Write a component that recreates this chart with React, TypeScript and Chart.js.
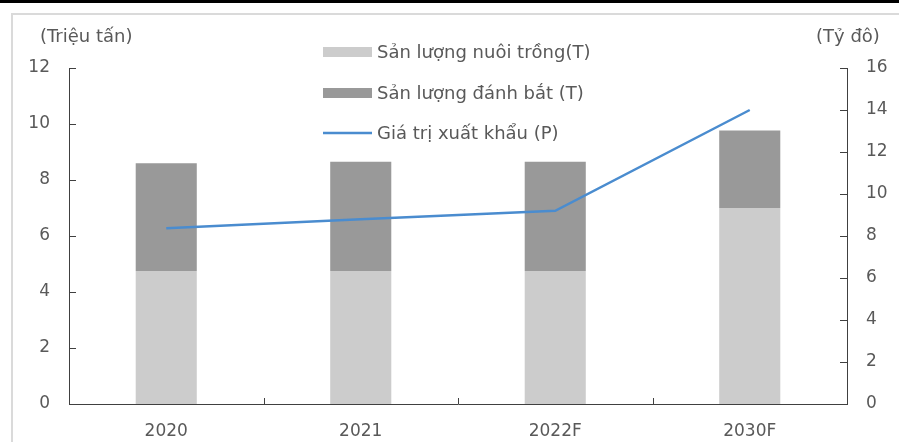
import React, { useEffect, useRef } from "react";
import { Chart, registerables } from "chart.js";

Chart.register(...registerables);

const categories = ["2020", "2021", "2022F", "2030F"];
const aquaculture = [4.75, 4.75, 4.75, 7.0];
const capture = [3.85, 3.9, 3.9, 2.77];
const exportValue = [8.37, 8.8, 9.2, 14.0];

const seriesLabels = [
  "Sản lượng nuôi trồng(T)",
  "Sản lượng đánh bắt (T)",
  "Giá trị xuất khẩu (P)",
];
const leftAxisTitle = "(Triệu tấn)";
const rightAxisTitle = "(Tỷ đô)";

const TEXT = "#595959";
const AXIS = "#404040";
const FONT = "'DejaVu Sans', sans-serif";

const decorPlugin = {
  id: "decor",
  afterDraw(chart: any) {
    const ctx = chart.ctx as CanvasRenderingContext2D;
    const yl = chart.scales.yL;
    const yr = chart.scales.yR;
    const x = chart.scales.x;
    ctx.save();
    // inside tick marks
    ctx.strokeStyle = AXIS;
    ctx.lineWidth = 1;
    ctx.beginPath();
    yl.ticks.forEach((t: any) => {
      const p = Math.round(yl.getPixelForValue(t.value)) + 0.5;
      ctx.moveTo(yl.right, p);
      ctx.lineTo(yl.right + 7, p);
    });
    yr.ticks.forEach((t: any) => {
      const p = Math.round(yr.getPixelForValue(t.value)) + 0.5;
      ctx.moveTo(yr.left - 7, p);
      ctx.lineTo(yr.left, p);
    });
    for (let i = 0; i <= categories.length; i++) {
      const p = Math.round(x.getPixelForValue(i - 0.5)) + 0.5;
      ctx.moveTo(p, x.top);
      ctx.lineTo(p, x.top - 6);
    }
    ctx.stroke();

    // axis titles
    ctx.fillStyle = TEXT;
    ctx.font = `18px ${FONT}`;
    ctx.textBaseline = "middle";
    ctx.textAlign = "left";
    ctx.fillText(leftAxisTitle, 40, 37);
    ctx.fillText(rightAxisTitle, 816, 37);

    // legend
    const rowsY = [52, 93, 133];
    chart.data.datasets.forEach((ds: any, i: number) => {
      const y = rowsY[i];
      if (ds.type === "line") {
        ctx.strokeStyle = ds.borderColor;
        ctx.lineWidth = 2.5;
        ctx.beginPath();
        ctx.moveTo(323, y);
        ctx.lineTo(372, y);
        ctx.stroke();
      } else {
        ctx.fillStyle = ds.backgroundColor;
        ctx.fillRect(323, y - 5, 49, 10);
      }
      ctx.fillStyle = TEXT;
      ctx.fillText(ds.label, 377, y + 1);
    });
    ctx.restore();
  },
};

export default function App() {
  const ref = useRef<HTMLCanvasElement | null>(null);

  useEffect(() => {
    if (!ref.current) return;
    const chart = new Chart(ref.current, {
      type: "bar",
      data: {
        labels: categories,
        datasets: [
          {
            type: "bar",
            label: seriesLabels[0],
            data: aquaculture,
            backgroundColor: "#cccccc",
            yAxisID: "yL",
            stack: "s",
            order: 1,
            categoryPercentage: 1,
            barPercentage: 0.314,
          },
          {
            type: "bar",
            label: seriesLabels[1],
            data: capture,
            backgroundColor: "#999999",
            yAxisID: "yL",
            stack: "s",
            order: 1,
            categoryPercentage: 1,
            barPercentage: 0.314,
          },
          {
            type: "line",
            label: seriesLabels[2],
            data: exportValue,
            borderColor: "#4a8ccf",
            backgroundColor: "#4a8ccf",
            borderWidth: 2.5,
            pointRadius: 0,
            tension: 0,
            yAxisID: "yR",
            order: 0,
          },
        ],
      } as any,
      options: {
        responsive: false,
        animation: false,
        layout: { padding: { top: 68, left: 0, right: 0, bottom: 0 } },
        plugins: {
          legend: { display: false },
          tooltip: { enabled: false },
        },
        scales: {
          x: {
            type: "category",
            stacked: true,
            offset: true,
            grid: { display: false, drawTicks: false },
            border: { display: true, color: AXIS, width: 1 },
            ticks: {
              color: TEXT,
              font: { family: FONT, size: 17 },
              padding: 17,
              maxRotation: 0,
            },
            afterFit: (s: any) => {
              s.height = 38;
            },
          },
          yL: {
            type: "linear",
            position: "left",
            stacked: true,
            min: 0,
            max: 12,
            grid: { display: false, drawTicks: false },
            border: { display: true, color: AXIS, width: 1 },
            ticks: {
              stepSize: 2,
              color: TEXT,
              font: { family: FONT, size: 17 },
              padding: 19,
            },
            afterFit: (s: any) => {
              s.width = 69;
            },
          },
          yR: {
            type: "linear",
            position: "right",
            min: 0,
            max: 16,
            grid: { display: false, drawTicks: false },
            border: { display: true, color: AXIS, width: 1 },
            ticks: {
              stepSize: 2,
              color: TEXT,
              font: { family: FONT, size: 17 },
              padding: 19,
            },
            afterFit: (s: any) => {
              s.width = 52;
            },
          },
        },
      } as any,
      plugins: [decorPlugin],
    });
    return () => chart.destroy();
  }, []);

  return (
    <div
      style={{
        position: "fixed",
        left: 0,
        top: 0,
        width: 899,
        height: 442,
        overflow: "hidden",
        background: "#ffffff",
      }}
    >
      <div
        style={{
          position: "absolute",
          left: 0,
          top: 0,
          width: 899,
          height: 3,
          background: "#000000",
        }}
      />
      <div
        style={{
          position: "absolute",
          left: 11,
          top: 13,
          width: 1000,
          height: 1000,
          borderLeft: "2px solid #dadada",
          borderTop: "2px solid #dadada",
        }}
      />
      <canvas
        ref={ref}
        width={899}
        height={442}
        style={{ position: "absolute", left: 0, top: 0, width: 899, height: 442 }}
      />
    </div>
  );
}
